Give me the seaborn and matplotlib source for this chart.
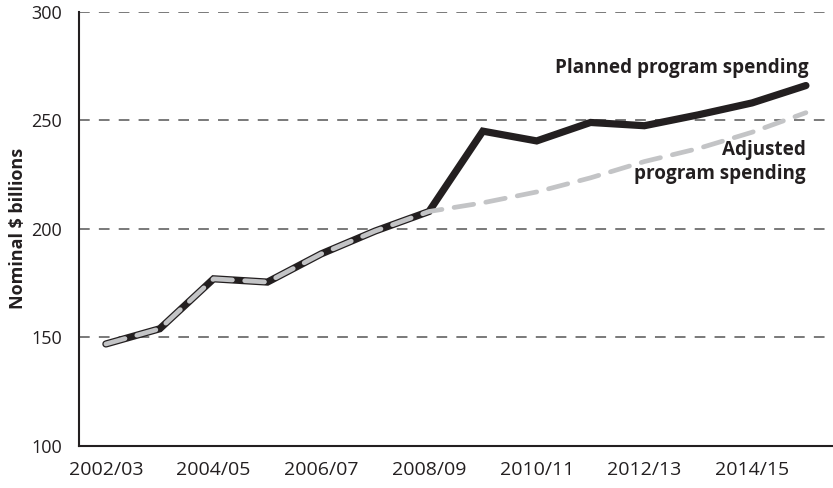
import numpy as np
import pandas as pd
import matplotlib
matplotlib.use("Agg")
from matplotlib import pyplot as plt
import seaborn as sns

years = ["2002/03", "2003/04", "2004/05", "2005/06", "2006/07", "2007/08", "2008/09",
         "2009/10", "2010/11", "2011/12", "2012/13", "2013/14", "2014/15", "2015/16"]
planned = [147, 154, 177, 175.5, 188.5, 199, 208, 245, 240.5, 249, 247.5, 252.5, 258, 266]
adjusted = [147, 154, 177, 175.5, 188.5, 199, 208, 212, 217, 223.5, 231, 237, 244.5, 253.5]
y_ticks = [100, 150, 200, 250, 300]

sns.set_style("white")
plt.rcParams['font.family'] = ['Open Sans', 'DejaVu Sans']

df = pd.DataFrame({"pos": np.arange(len(years)), "year": years,
                   "planned": planned, "adjusted": adjusted})

fig = plt.figure(figsize=(8.33, 4.88), dpi=100)
ax = fig.add_axes([0.0948, 0.086, 0.905, 0.89])

for yv in y_ticks[1:]:
    ax.axhline(yv, color="#555555", lw=1.1, ls=(0, (7, 6)), zorder=0)

sns.lineplot(data=df, x="pos", y="planned", ax=ax, color="#231f20", lw=5.2,
             solid_capstyle="round", solid_joinstyle="miter", zorder=2)
sns.lineplot(data=df, x="pos", y="adjusted", ax=ax, color="#c3c4c6", lw=3.4,
             dashes=False, zorder=3)
ax.lines[-1].set_linestyle((0, (4.2, 2.6)))
ax.lines[-1].set_dash_capstyle("round")

ax.set_xlim(-0.5, 13.5)
ax.set_ylim(100, 300)
ax.set_xticks(df["pos"])
ax.set_xticklabels([y if i % 2 == 0 else "" for i, y in enumerate(years)])
ax.set_yticks(y_ticks)
ax.tick_params(axis="x", direction="in", length=10, width=1.4, color="#231f20",
               labelsize=14, pad=11, labelcolor="#231f20")
ax.tick_params(axis="y", length=0, labelsize=13, pad=12, labelcolor="#231f20")

ax.set_xlabel("")
ax.set_ylabel("Nominal $ billions", fontsize=13, fontweight="bold", color="#231f20", labelpad=3)

for side in ["top", "right"]:
    ax.spines[side].set_visible(False)
for side in ["left", "bottom"]:
    ax.spines[side].set_color("#231f20")
    ax.spines[side].set_linewidth(1.5)

ax.text(13.05, 269.5, "Planned program spending", ha="right", va="bottom",
        fontsize=13.6, fontweight="bold", color="#231f20")
ax.text(13.0, 241, "Adjusted\nprogram spending", ha="right", va="top",
        fontsize=13.6, fontweight="bold", color="#231f20", linespacing=1.3)

fig.savefig("out.png", dpi=100)
